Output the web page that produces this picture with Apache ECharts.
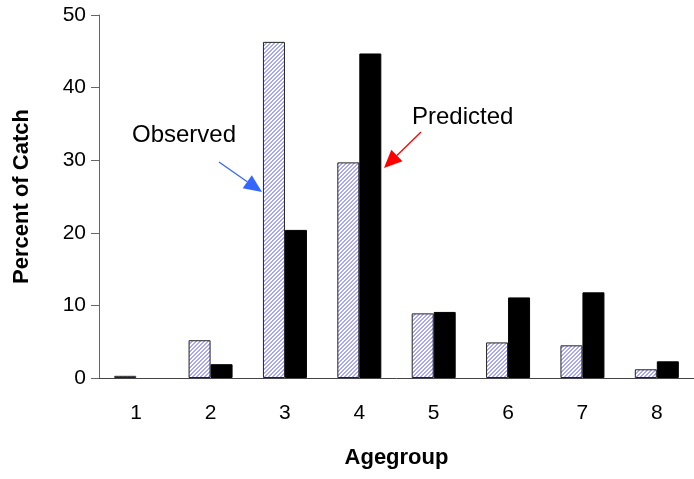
<!DOCTYPE html>
<html>
<head>
<meta charset="utf-8">
<script src="https://cdn.jsdelivr.net/npm/echarts@6/dist/echarts.min.js"></script>
<style>
  html, body {margin: 0; padding: 0; background: #fff;}
  #chart {width: 694px; height: 479px;}
</style>
</head>
<body>
<div id="chart"></div>
<script>
// 数据
const ageGroups = ['1', '2', '3', '4', '5', '6', '7', '8'];
const observed = [0.3, 5.2, 46.3, 29.7, 8.9, 4.9, 4.5, 1.2];
const predicted = [0, 1.9, 20.4, 44.7, 9.1, 11.1, 11.8, 2.3];

// 斜线填充
function makeHatch() {
    const c = document.createElement('canvas');
    c.width = 4;
    c.height = 4;
    const ctx = c.getContext('2d');
    ctx.fillStyle = '#ffffff';
    ctx.fillRect(0, 0, 4, 4);
    ctx.fillStyle = '#a8a8fb';
    for (let x = 0; x < 4; x++) {
        for (let y = 0; y < 4; y++) {
            if ((x + y) % 4 < 2) ctx.fillRect(x, y, 1, 1);
        }
    }
    return c;
}

// 箭头
function arrow(x1, y1, x2, y2, color) {
    const ang = Math.atan2(y2 - y1, x2 - x1);
    const len = 18, half = 8;
    const bx = x2 - len * Math.cos(ang), by = y2 - len * Math.sin(ang);
    const px = -Math.sin(ang) * half, py = Math.cos(ang) * half;
    return [
        {type: 'line', shape: {x1: x1, y1: y1, x2: bx, y2: by}, style: {stroke: color, lineWidth: 1.3}},
        {type: 'polygon', shape: {points: [[x2, y2], [bx + px, by + py], [bx - px, by - py]]}, style: {fill: color}}
    ];
}

const chart = echarts.init(document.getElementById('chart'));

const font = '"Liberation Sans", Arial, sans-serif';

const option = {
    animation: false,
    grid: {left: 99, right: 0, top: 15, bottom: 101},
    xAxis: {
        type: 'category',
        data: ageGroups,
        name: 'Agegroup',
        nameLocation: 'middle',
        nameGap: 69,
        nameTextStyle: {fontSize: 22, fontWeight: 'bold', color: '#000', fontFamily: font},
        axisLine: {lineStyle: {color: '#444', width: 1}},
        axisTick: {length: 8, lineStyle: {color: '#444'}},
        axisLabel: {fontSize: 21, color: '#000', margin: 25, fontFamily: font}
    },
    yAxis: {
        type: 'value',
        min: 0,
        max: 50,
        interval: 10,
        name: 'Percent of Catch',
        nameLocation: 'middle',
        nameGap: 66,
        nameTextStyle: {fontSize: 22, fontWeight: 'bold', color: '#000', fontFamily: font},
        axisLine: {show: true, lineStyle: {color: '#666', width: 1}},
        axisTick: {show: true, length: 8, lineStyle: {color: '#666'}},
        axisLabel: {fontSize: 21, color: '#000', margin: 13, fontFamily: font},
        splitLine: {show: false}
    },
    series: [
        {
            name: 'Observed',
            type: 'bar',
            data: observed,
            barWidth: 22,
            barGap: '0%',
            itemStyle: {
                color: {image: makeHatch(), repeat: 'repeat'},
                borderColor: '#222',
                borderWidth: 1
            }
        },
        {
            name: 'Predicted',
            type: 'bar',
            // 0值不画边框
            data: predicted.map(v => (v === 0 ? '-' : v)),
            barWidth: 22,
            itemStyle: {color: '#000', borderColor: '#000', borderWidth: 1}
        }
    ],
    graphic: [
        {type: 'text', left: 132, top: 123, style: {text: 'Observed', fontSize: 24, fill: '#000', fontFamily: font}},
        {type: 'text', left: 412, top: 105, style: {text: 'Predicted', fontSize: 24, fill: '#000', fontFamily: font}},
        ...arrow(219, 162, 262, 192, '#3366ff'),
        ...arrow(421, 132, 384, 168, '#ff0000')
    ]
};

chart.setOption(option);
</script>
</body>
</html>
